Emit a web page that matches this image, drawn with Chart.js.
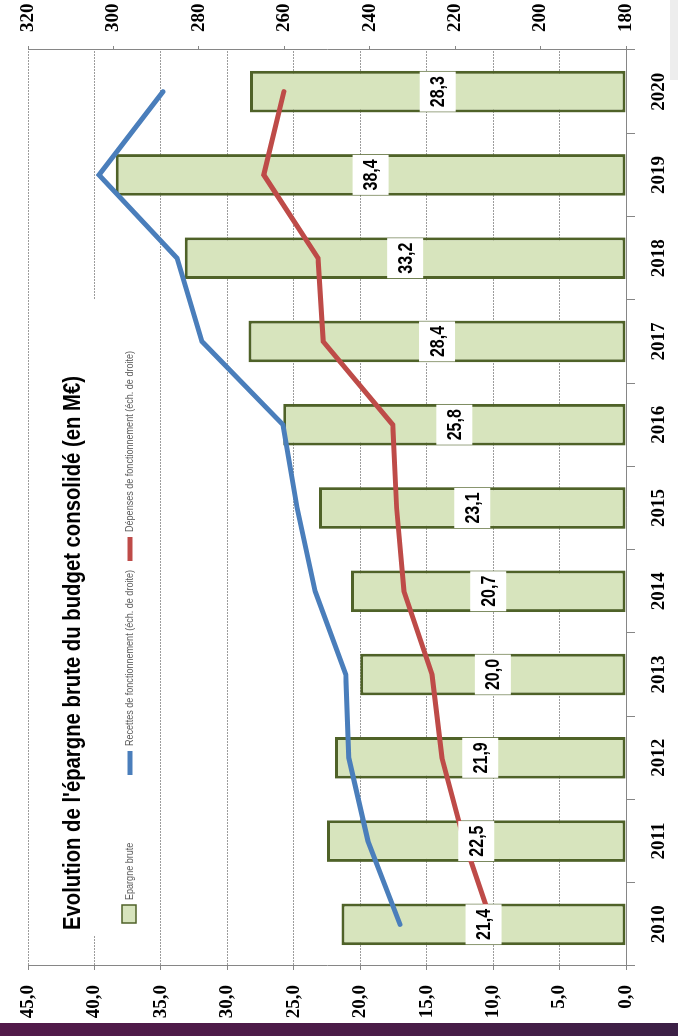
<!DOCTYPE html>
<html lang="fr">
<head>
<meta charset="utf-8">
<title>Evolution de l'épargne brute du budget consolidé</title>
<script src="https://cdn.jsdelivr.net/npm/chart.js@4.4.1/dist/chart.umd.min.js"></script>
<style>
  html, body { margin: 0; padding: 0; background: #fff; overflow: hidden; }
  body { width: 678px; height: 1036px; position: relative; }
  /* le graphique est posé en paysage puis tourné d'un quart de tour */
  #cadre {
    position: absolute; left: 0; top: 0;
    width: 1036px; height: 678px;
    transform-origin: 0 0;
    transform: translate(0, 1036px) rotate(-90deg);
  }
  #bandeBas {
    position: absolute; left: 0; top: 1023px; width: 678px; height: 13px;
    background: linear-gradient(to right, #521a4a, #4b1c48 55%, #3c2046);
  }
  #coin {
    position: absolute; left: 670px; top: 0; width: 8px; height: 80px;
    background: #ededed;
  }
</style>
</head>
<body>
<div id="cadre"><canvas id="graphe" width="1036" height="678"></canvas></div>
<div id="bandeBas"></div>
<div id="coin"></div>
<script>
// Données (M€)
const annees = ["2010", "2011", "2012", "2013", "2014", "2015", "2016", "2017", "2018", "2019", "2020"];
const epargneBrute = [21.4, 22.5, 21.9, 20.0, 20.7, 23.1, 25.8, 28.4, 33.2, 38.4, 28.3];
const recettesFonct = [232.9, 240.4, 244.9, 245.6, 252.8, 257.0, 260.3, 279.3, 285.1, 303.4, 288.4];
const depensesFonct = [211.3, 217.9, 223.1, 225.4, 232.0, 233.7, 234.6, 250.9, 252.1, 264.8, 260.1];

// Graduations des deux échelles
const ticksGauche = [0, 5, 10, 15, 20, 25, 30, 35, 40, 45];
const ticksDroite = [180, 200, 220, 240, 260, 280, 300, 320];

const titre = "Evolution de l'épargne brute du budget consolidé (en M€)";
const legendes = [
  "Epargne brute",
  "Recettes de fonctionnement (éch. de droite)",
  "Dépenses de fonctionnement (éch. de droite)"
];

const policeChiffres = "'Liberation Serif', 'DejaVu Serif', serif";
const policeTexte = "'Liberation Sans', Arial, sans-serif";

const couleurs = {
  barre: "#d7e4bd",
  barreBord: "#4f6228",
  recettes: "#4a7ebb",
  depenses: "#be4b48",
  axe: "#868686",
  grille: "#9c9c9c"
};

const virgule = v => v.toFixed(1).replace(".", ",");

// pas de police étroite installée : on resserre le texte à la main
function texteEtroit(ctx, txt, x, y, sx) {
  ctx.save();
  ctx.translate(x, y);
  ctx.scale(sx, 1);
  ctx.fillText(txt, 0, 0);
  ctx.restore();
}

// fond blanc du canvas
const fond = {
  id: "fond",
  beforeDraw(chart) {
    const ctx = chart.ctx;
    ctx.save();
    ctx.fillStyle = "#fff";
    ctx.fillRect(0, 0, chart.width, chart.height);
    ctx.restore();
  }
};

// titre + légende dans un encart blanc au-dessus de la grille
const encart = {
  id: "encart",
  beforeDatasetsDraw(chart) {
    const ctx = chart.ctx;
    ctx.save();
    ctx.fillStyle = "#fff";
    ctx.fillRect(101, 50, 636, 92);

    ctx.fillStyle = "#000";
    ctx.font = "bold 24px " + policeTexte;
    ctx.textBaseline = "alphabetic";
    texteEtroit(ctx, titre, 106, 80, 554 / ctx.measureText(titre).width);

    // clé "Epargne brute"
    ctx.fillStyle = couleurs.barre;
    ctx.strokeStyle = couleurs.barreBord;
    ctx.lineWidth = 1.5;
    ctx.fillRect(113, 122, 18, 14);
    ctx.strokeRect(113, 122, 18, 14);

    // clés des deux courbes
    ctx.lineWidth = 5;
    ctx.strokeStyle = couleurs.recettes;
    ctx.beginPath(); ctx.moveTo(261, 130); ctx.lineTo(285, 130); ctx.stroke();
    ctx.strokeStyle = couleurs.depenses;
    ctx.beginPath(); ctx.moveTo(475, 130); ctx.lineTo(499, 130); ctx.stroke();

    ctx.fillStyle = "#595959";
    ctx.font = "10px " + policeTexte;
    ctx.textBaseline = "middle";
    const sx = 176 / ctx.measureText(legendes[1]).width;
    texteEtroit(ctx, legendes[0], 136, 130, sx);
    texteEtroit(ctx, legendes[1], 290, 130, sx);
    texteEtroit(ctx, legendes[2], 504, 130, sx);
    ctx.restore();
  }
};

// valeurs au milieu des barres, sur fond blanc
const etiquettes = {
  id: "etiquettes",
  afterDatasetsDraw(chart) {
    const meta = chart.getDatasetMeta(0);
    const ctx = chart.ctx;
    ctx.save();
    ctx.font = "bold 20px " + policeTexte;
    ctx.textAlign = "center";
    ctx.textBaseline = "middle";
    meta.data.forEach((barre, i) => {
      const cx = barre.x;
      const cy = (barre.y + barre.base) / 2;
      ctx.fillStyle = "#fff";
      ctx.fillRect(cx - 20, cy - 18, 40, 36);
      ctx.fillStyle = "#000";
      texteEtroit(ctx, virgule(epargneBrute[i]), cx, cy + 1, 0.8);
    });
    ctx.restore();
  }
};

const fontChiffres = { family: policeChiffres, size: 19, weight: "bold" };

new Chart(document.getElementById("graphe"), {
  type: "bar",
  data: {
    labels: annees,
    datasets: [
      {
        type: "bar",
        label: legendes[0],
        data: epargneBrute,
        yAxisID: "y",
        backgroundColor: couleurs.barre,
        borderColor: couleurs.barreBord,
        borderWidth: 3,
        borderSkipped: false,
        barPercentage: 0.5,
        categoryPercentage: 1,
        order: 3
      },
      {
        type: "line",
        label: legendes[1],
        data: recettesFonct,
        yAxisID: "y1",
        borderColor: couleurs.recettes,
        borderWidth: 5,
        pointRadius: 0,
        tension: 0,
        borderCapStyle: "round",
        order: 2
      },
      {
        type: "line",
        label: legendes[2],
        data: depensesFonct,
        yAxisID: "y1",
        borderColor: couleurs.depenses,
        borderWidth: 5,
        pointRadius: 0,
        tension: 0,
        borderCapStyle: "round",
        order: 1
      }
    ]
  },
  options: {
    responsive: false,
    animation: false,
    devicePixelRatio: 1,
    layout: { padding: { top: 28, left: 0, right: 0, bottom: 0 } },
    plugins: {
      legend: { display: false },
      tooltip: { enabled: false }
    },
    scales: {
      x: {
        offset: true,
        grid: { offset: true, drawOnChartArea: false, tickLength: 9, color: couleurs.axe },
        border: { color: couleurs.axe },
        ticks: { font: fontChiffres, color: "#000", padding: 13, autoSkip: false, maxRotation: 0 },
        afterFit(s) { s.height = 52; }
      },
      y: {
        position: "left",
        min: 0,
        max: 45,
        grid: { color: couleurs.grille, tickLength: 4, tickColor: couleurs.axe },
        border: { color: couleurs.axe, dash: [2, 1] },
        ticks: { font: fontChiffres, color: "#000", padding: 15, callback: v => virgule(v) },
        afterBuildTicks(s) { s.ticks = ticksGauche.map(v => ({ value: v })); },
        afterFit(s) { s.width = 70; }
      },
      y1: {
        position: "right",
        min: 180,
        max: 320,
        grid: { drawOnChartArea: false, tickLength: 4, color: couleurs.axe },
        border: { color: couleurs.axe },
        ticks: { font: fontChiffres, color: "#000", padding: 14 },
        afterBuildTicks(s) { s.ticks = ticksDroite.map(v => ({ value: v })); },
        afterFit(s) { s.width = 50; }
      }
    }
  },
  plugins: [fond, encart, etiquettes]
});
</script>
</body>
</html>
